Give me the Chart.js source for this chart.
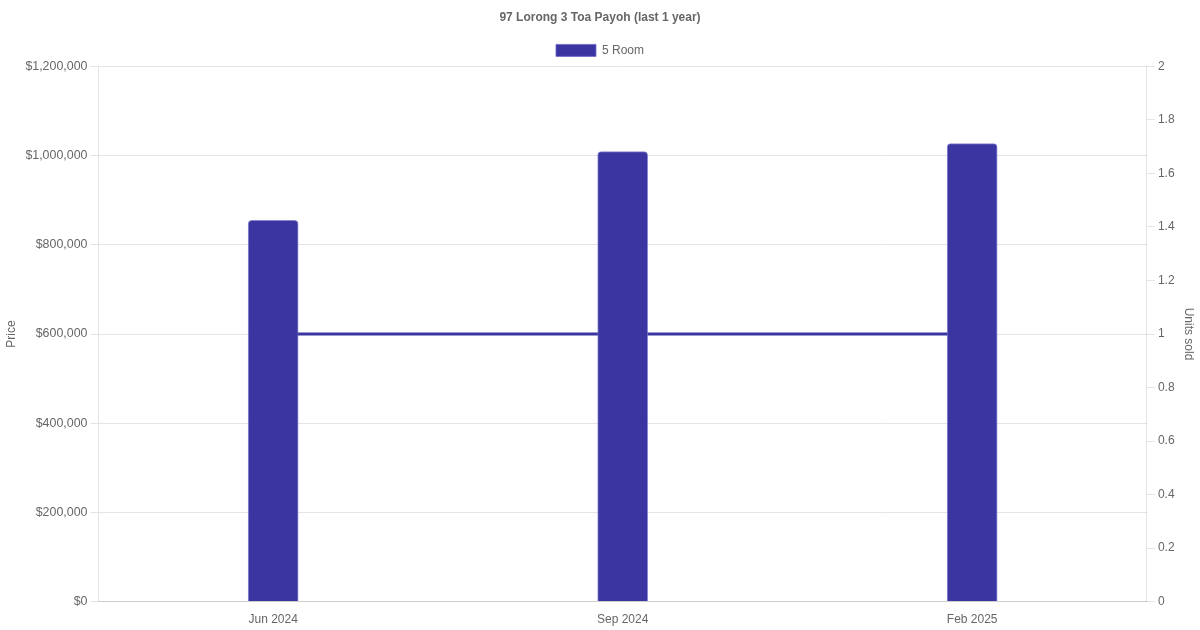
<!DOCTYPE html>
<html>
<head>
<meta charset="utf-8">
<script src="https://cdn.jsdelivr.net/npm/chart.js@4"></script>
<style>
  html, body { margin: 0; padding: 0; background: #fff; }
  #wrap { width: 1200px; height: 630px; }
</style>
</head>
<body>
<div id="wrap"><canvas id="chart"></canvas></div>
<script>
// ---- data ----
const months = ['Jun 2024', 'Sep 2024', 'Feb 2025'];
const prices = [855000, 1009000, 1027000];
const unitsSold = [1, 1, 1];
const seriesName = '5 Room';
const chartTitle = '97 Lorong 3 Toa Payoh (last 1 year)';

const accent = '#3a35a0';

Chart.defaults.font.family = "'Liberation Sans', Arial, sans-serif";
Chart.defaults.color = '#666';

new Chart(document.getElementById('chart'), {
    data: {
        labels: months,
        datasets: [
            {
                type: 'bar',
                label: seriesName,
                data: prices,
                yAxisID: 'y',
                backgroundColor: accent,
                borderColor: 'rgba(110, 105, 200, 0.8)',
                borderWidth: 1,
                borderRadius: 4,
                borderSkipped: 'bottom',
                barThickness: 50,
                order: 1
            },
            {
                type: 'line',
                label: 'Units sold',
                data: unitsSold,
                yAxisID: 'y1',
                borderColor: accent,
                borderWidth: 3,
                pointRadius: 0,
                fill: false,
                order: 2
            }
        ]
    },
    options: {
        responsive: true,
        maintainAspectRatio: false,
        animation: false,
        layout: { padding: { left: 0, right: 0, bottom: 0 } },
        plugins: {
            title: { display: true, text: chartTitle, font: { size: 12, weight: 'bold' }, color: '#666' },
            legend: {
                labels: {
                    filter: (item) => item.datasetIndex === 0,
                    boxWidth: 40,
                    boxHeight: 12,
                    font: { size: 12 }
                }
            },
            tooltip: { enabled: false }
        },
        scales: {
            x: {
                grid: { display: false },
                ticks: { font: { size: 12 } }
            },
            y: {
                position: 'left',
                min: 0,
                max: 1200000,
                ticks: { stepSize: 200000, font: { size: 12.4 }, callback: (v) => '$' + v.toLocaleString('en-US') },
                title: { display: true, text: 'Price' },
                grid: { color: '#e5e5e5' }
            },
            y1: {
                position: 'right',
                min: 0,
                max: 2,
                ticks: { stepSize: 0.2, callback: (v) => String(Math.round(v * 10) / 10) },
                title: { display: true, text: 'Units sold' },
                grid: { drawOnChartArea: false }
            }
        }
    }
});
</script>
</body>
</html>
